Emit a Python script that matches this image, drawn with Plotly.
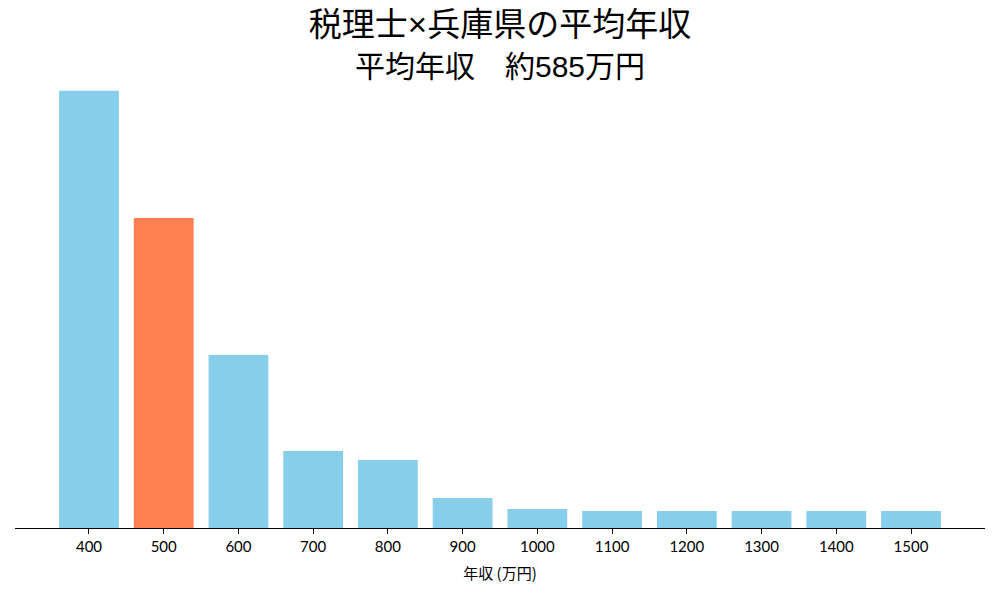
import plotly.graph_objects as go

# DATA
# ----------------------------------------------------------------------------------------------------
incomes = [400, 500, 600, 700, 800, 900, 1000, 1100, 1200, 1300, 1400, 1500]
shares = [43.7, 31.0, 17.3, 7.7, 6.8, 3.0, 1.9, 1.7, 1.7, 1.7, 1.7, 1.7]
highlight = 500
tick_labels = [str(v) for v in incomes]
title_main = '税理士×兵庫県の平均年収'
title_sub = '平均年収　約585万円'

colors = ['#FF7F50' if v == highlight else '#87CEEB' for v in incomes]
title_font = 'Liberation Sans, Noto Sans CJK JP'

# FIGURE
# ----------------------------------------------------------------------------------------------------
fig = go.Figure(go.Bar(
    x=incomes,
    y=shares,
    width=80,
    marker=dict(color=colors, line=dict(width=0)),
))

fig.update_layout(
    width=1000,
    height=600,
    plot_bgcolor='white',
    paper_bgcolor='white',
    margin=dict(l=15, r=15, t=69, b=72),
    showlegend=False,
    title=dict(
        text=title_main,
        x=0.5,
        xanchor='center',
        y=1 - 24 / 600,
        yanchor='middle',
        font=dict(family=title_font, size=33, color='black'),
    ),
    font=dict(family='Noto Sans CJK JP', color='black'),
)

fig.add_annotation(
    text=title_sub,
    x=0.5, xref='paper', xanchor='center',
    y=1.0065, yref='paper', yanchor='middle',
    showarrow=False,
    font=dict(family=title_font, size=30, color='black'),
)

fig.update_xaxes(
    range=[301, 1599],
    tickvals=incomes,
    ticktext=tick_labels,
    showline=True,
    linecolor='black',
    linewidth=1,
    ticks='outside',
    ticklen=5,
    tickcolor='black',
    showgrid=False,
    zeroline=False,
    tickfont=dict(family='Lato', size=15),
    title=dict(text='年収 (万円)', font=dict(family='Noto Sans CJK JP', size=15), standoff=14),
)

fig.update_yaxes(
    range=[0, 43.7 * 1.05],
    visible=False,
    showgrid=False,
    zeroline=False,
)

fig.write_html('out.html', config={'displayModeBar': False},
               post_script="document.body.style.margin='0';")
